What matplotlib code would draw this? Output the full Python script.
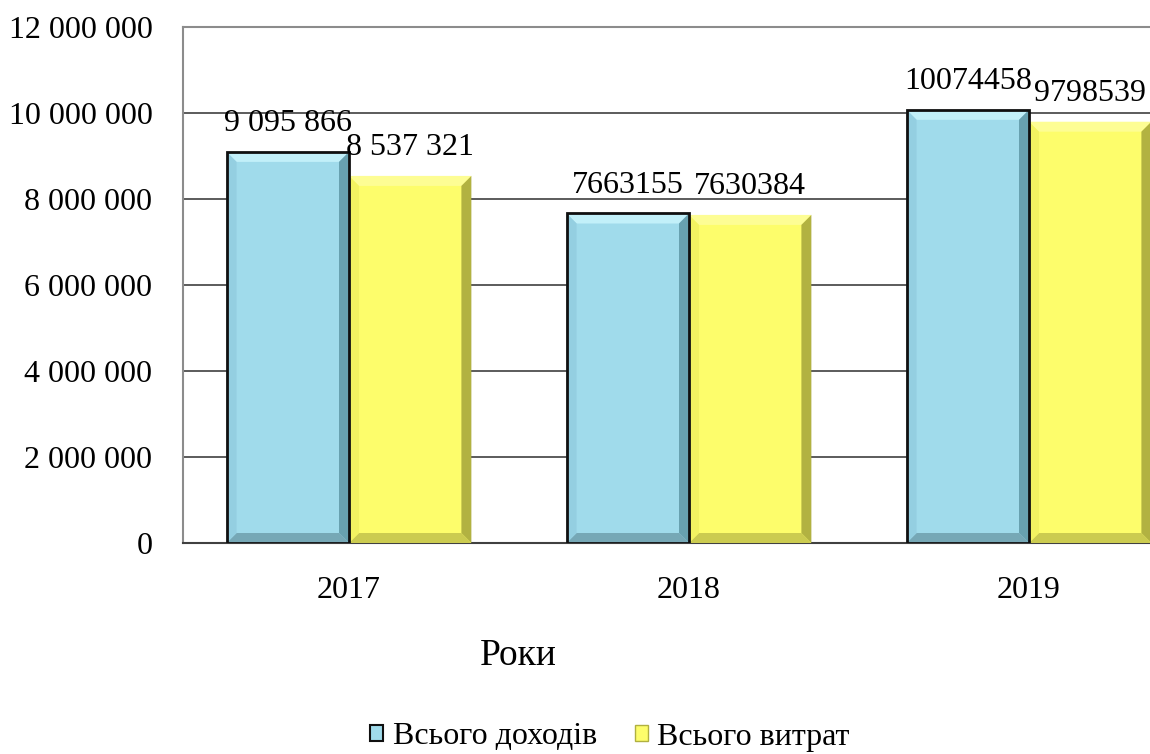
import matplotlib
matplotlib.use('Agg')
import matplotlib.pyplot as plt
from matplotlib.patches import Polygon, Patch
from matplotlib.ticker import FuncFormatter, MultipleLocator
import numpy as np

# ---------------------------------------------------------------
# Data
# ---------------------------------------------------------------
years = ['2017', '2018', '2019']
income = [9095866, 7663155, 10074458]
expenses = [8537321, 7630384, 9798539]
income_labels = ['9 095 866', '7663155', '10074458']
expense_labels = ['8 537 321', '7630384', '9798539']
series_names = ['Всього доходів', 'Всього витрат']
x_title = 'Роки'

# ---------------------------------------------------------------
# Style
# ---------------------------------------------------------------
plt.rcParams['font.family'] = ['Liberation Serif', 'DejaVu Serif']
FS = 23

BLUE = dict(face='#a0dbeb', top='#c9f4fc', right='#5e97a6', bottom='#6f9fad',
            left='#93cde0', edge='#101010')
YELLOW = dict(face='#fdfd6b', top='#fefe9c', right='#a5a53a', bottom='#c3c34c',
              left='#f2f260', edge='none')

fig = plt.figure(figsize=(11.5, 7.54), dpi=100)
# plot area runs past the right border of the image
ax = fig.add_axes([183 / 1150, 211 / 754, 1020 / 1150, 516 / 754])

x = np.arange(len(years))
width = 0.36

shift = 4 / 340
ax.set_xlim(-0.5 + shift, len(years) - 0.5 + shift)
ax.set_ylim(0, 12000000)

# pixel size of one data unit, used for the bevel edges
px_x = ax.bbox.width / (ax.get_xlim()[1] - ax.get_xlim()[0])
px_y = ax.bbox.height / (ax.get_ylim()[1] - ax.get_ylim()[0])


def bevel_bar(x0, h, style, bevel=10):
    x1 = x0 + width
    dx = bevel / px_x
    dy = bevel / px_y
    ax.add_patch(Polygon([(x0, 0), (x1, 0), (x1, h), (x0, h)], closed=True,
                         facecolor=style['face'], edgecolor='none', zorder=3))
    parts = [
        ([(x0, h), (x1, h), (x1 - dx, h - dy), (x0 + dx, h - dy)], style['top']),
        ([(x1, h), (x1, 0), (x1 - dx, dy), (x1 - dx, h - dy)], style['right']),
        ([(x0, 0), (x1, 0), (x1 - dx, dy), (x0 + dx, dy)], style['bottom']),
        ([(x0, 0), (x0, h), (x0 + dx, h - dy), (x0 + dx, dy)], style['left']),
    ]
    for pts, col in parts:
        ax.add_patch(Polygon(pts, closed=True, facecolor=col, edgecolor='none',
                             alpha=0.85, zorder=4))
    if style['edge'] != 'none':
        ax.add_patch(Polygon([(x0, 0), (x1, 0), (x1, h), (x0, h)], closed=True,
                             facecolor='none', edgecolor=style['edge'],
                             linewidth=2.0, zorder=5))


for i in range(len(years)):
    bevel_bar(x[i] - width, income[i], BLUE)
    bevel_bar(x[i], expenses[i], YELLOW)
    ax.annotate(income_labels[i], (x[i] - width / 2, income[i]),
                xytext=(0, 15), textcoords='offset points',
                ha='center', va='baseline', fontsize=FS, zorder=6)
    ax.annotate(expense_labels[i], (x[i] + width / 2, expenses[i]),
                xytext=(0, 15), textcoords='offset points',
                ha='center', va='baseline', fontsize=FS, zorder=6)

# ---------------------------------------------------------------
# Axes
# ---------------------------------------------------------------
ax.yaxis.set_major_locator(MultipleLocator(2000000))
ax.yaxis.set_major_formatter(FuncFormatter(lambda v, p: f'{v:,.0f}'.replace(',', ' ')))
ax.grid(axis='y', color='#404040', linewidth=1.2, zorder=0)
ax.set_axisbelow(True)

ax.set_xticks(x)
ax.set_xticklabels(years)
ax.tick_params(axis='both', length=0, labelsize=FS)
ax.tick_params(axis='y', pad=22)
ax.tick_params(axis='x', pad=24)

for side in ['top', 'left', 'right']:
    ax.spines[side].set_color('#8c8c8c')
    ax.spines[side].set_linewidth(1.5)
ax.spines['bottom'].set_color('#404040')
ax.spines['bottom'].set_linewidth(1.5)

fig.text(518 / 1150, 1 - 656 / 754, x_title, ha='center', va='center', fontsize=27)

handles = [Patch(facecolor=BLUE['face'], edgecolor='#101010', linewidth=1.5),
           Patch(facecolor=YELLOW['face'], edgecolor='#b0b040', linewidth=1.0)]
fig.legend(handles, series_names, loc='center', ncol=2, frameon=False,
           bbox_to_anchor=(610 / 1150, 1 - 737 / 754), fontsize=FS,
           handlelength=0.4, handleheight=0.4, handletextpad=0.3,
           columnspacing=1.2, borderpad=0)

fig.savefig('out.png', dpi=100)
